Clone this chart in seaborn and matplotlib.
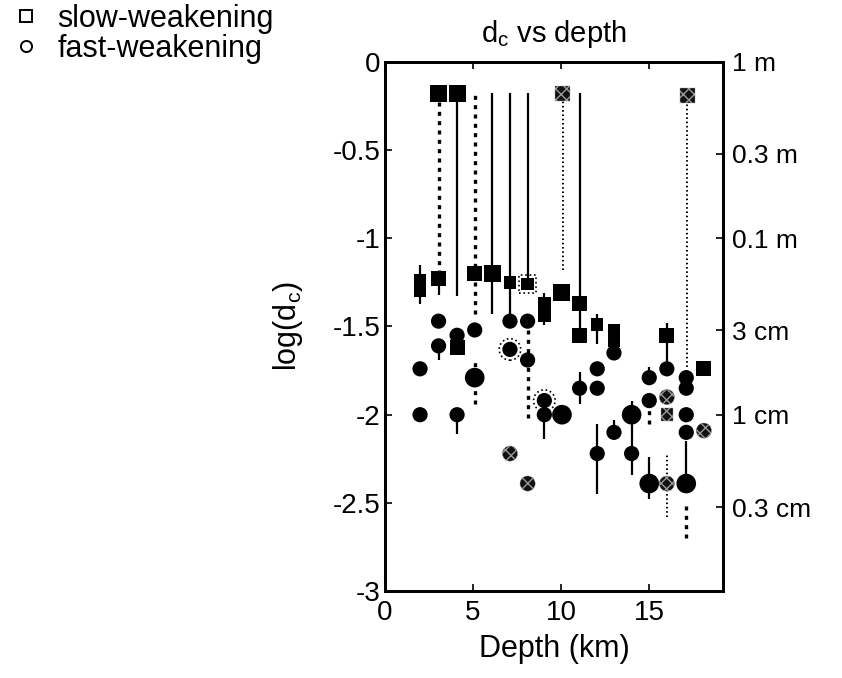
import matplotlib
matplotlib.use("Agg")
import matplotlib.pyplot as plt
import seaborn as sns
import pandas as pd
import numpy as np
from matplotlib.lines import Line2D

sns.set_style("ticks")
plt.rcParams['font.family'] = ['Liberation Sans', 'DejaVu Sans']
plt.rcParams['mathtext.default'] = 'regular'
plt.rcParams['axes.unicode_minus'] = False
for k in ['text.color', 'axes.labelcolor', 'xtick.color', 'ytick.color', 'axes.edgecolor']:
    plt.rcParams[k] = 'black'

# ---------------- data ----------------
# slow-weakening (squares)
sq_x = [2.0, 2.0, 3.05, 3.05, 4.1, 4.1, 5.1, 6.1, 7.1, 8.1, 9.05, 9.05, 10.05, 11.05, 11.05,
        12.05, 13.0, 13.0, 16.0, 18.1, 10.1, 17.15, 16.0]
sq_y = [-1.24, -1.30, -1.23, -0.18, -0.18, -1.62, -1.20, -1.20, -1.25, -1.26, -1.37, -1.44, -1.31,
        -1.37, -1.55, -1.49, -1.52, -1.58, -1.55, -1.74, -0.18, -0.19, -2.00]
sq_size = ['S', 'S', 'M', 'L', 'L', 'M', 'M', 'L', 'S', 'S', 'S', 'S', 'L', 'M', 'M',
           'S', 'S', 'S', 'M', 'M', 'M', 'M', 'S']
sq_kind = ['solid'] * 9 + ['ring'] + ['solid'] * 10 + ['hatched'] * 3

# fast-weakening (circles)
ci_x = [2.0, 2.0, 3.05, 3.05, 4.1, 4.1, 5.1, 5.1, 7.1, 7.1, 8.1, 8.1, 9.05, 9.05, 10.05,
        11.05, 12.05, 12.05, 12.05, 13.0, 13.0, 14.0, 14.0, 15.0, 15.0, 15.0, 16.0,
        17.1, 17.1, 17.1, 17.1, 17.1,
        7.1, 8.1, 16.0, 16.0, 18.1]
ci_y = [-1.74, -2.00, -1.47, -1.61, -1.55, -2.00, -1.52, -1.79, -1.47, -1.63, -1.47, -1.69, -1.92,
        -2.00, -2.00, -1.85, -1.74, -1.85, -2.22, -1.65, -2.10, -2.00, -2.22, -1.79, -1.92, -2.39,
        -1.74, -1.79, -1.85, -2.00, -2.10, -2.39,
        -2.22, -2.39, -1.90, -2.39, -2.09]
ci_size = ['N', 'N', 'N', 'N', 'N', 'N', 'N', 'L', 'N', 'N', 'N', 'N', 'N', 'N', 'L',
           'N', 'N', 'N', 'N', 'N', 'N', 'L', 'N', 'N', 'N', 'L', 'N',
           'N', 'N', 'N', 'N', 'L',
           'N', 'N', 'N', 'N', 'N']
ci_kind = (['solid'] * 9 + ['ring'] + ['solid'] * 2 + ['ring'] + ['solid'] * 19 + ['hatched'] * 5)

# vertical error bars
err_x = [2.0, 3.05, 3.05, 3.05, 4.1, 4.1, 5.1, 5.1, 6.1, 7.1, 8.1, 8.1, 9.05, 9.05, 10.1,
         11.05, 11.05, 12.05, 12.05, 13.0, 14.0, 15.0, 15.0, 15.0, 16.0, 16.0, 17.15, 17.1, 17.1]
err_lo = [-1.37, -1.20, -1.32, -1.69, -1.33, -2.11, -1.43, -1.94, -1.43, -1.47, -1.26, -2.02, -1.49,
          -2.14, -1.18, -1.55, -1.94, -1.60, -2.45, -2.10, -2.34, -1.79, -2.05, -2.48, -1.74, -2.58,
          -1.73, -2.34, -2.70]
err_hi = [-1.15, -0.20, -1.23, -1.61, -0.18, -2.00, -0.19, -1.69, -0.18, -0.18, -0.18, -1.47, -1.31,
          -2.00, -0.20, -0.18, -1.76, -1.43, -2.05, -2.03, -1.92, -1.73, -1.92, -2.24, -1.48, -2.23,
          -0.20, -2.15, -2.49]
err_style = ['solid', 'dashed', 'solid', 'solid', 'solid', 'solid', 'dashed', 'dashed', 'solid',
             'solid', 'solid', 'dashed', 'solid', 'solid', 'dotted', 'solid', 'solid', 'solid',
             'solid', 'solid', 'solid', 'solid', 'dashed', 'solid', 'solid', 'dotted', 'dotted',
             'solid', 'dashed']

x_ticks = [0, 5, 10, 15]
y_ticks = [0, -0.5, -1, -1.5, -2, -2.5, -3]
y_ticklabels = ['0', '-0.5', '-1', '-1.5', '-2', '-2.5', '-3']
r_ticks = [0, np.log10(0.3), -1, np.log10(0.03), -2, np.log10(0.003)]
r_ticklabels = ['1 m', '0.3 m', '0.1 m', '3 cm', '1 cm', '0.3 cm']

# ---------------- figure ----------------
fig = plt.figure(figsize=(8.42, 6.78), dpi=100)
ax = fig.add_axes([0.457, 0.128, 0.402, 0.781])

sq = pd.DataFrame({'x': sq_x, 'y': sq_y, 'size': sq_size, 'kind': sq_kind})
ci = pd.DataFrame({'x': ci_x, 'y': ci_y, 'size': ci_size, 'kind': ci_kind})
err = pd.DataFrame({'x': err_x, 'lo': err_lo, 'hi': err_hi, 'style': err_style})

styles = {'solid': dict(linestyles='solid', linewidths=1.6),
          'dashed': dict(linestyles=[(0, (1.2, 1.6))], linewidths=2.4),
          'dotted': dict(linestyles=[(0, (0.8, 1.4))], linewidths=1.4)}
for st, g in err.groupby('style'):
    ax.vlines(g['x'], g['lo'], g['hi'], colors='black', zorder=1, **styles[st])

sq_sizes = {'S': 80, 'M': 115, 'L': 150}
ci_sizes = {'N': 120, 'L': 200}

# rings (dotted outlines) behind
for df, m, sizes in [(sq, 's', sq_sizes), (ci, 'o', ci_sizes)]:
    r = df[df['kind'] == 'ring']
    if len(r):
        ax.scatter(r['x'], r['y'], s=[sizes[k] * 2.0 for k in r['size']], marker=m,
                   facecolors='none', edgecolors='black', linestyles=':', linewidths=1.2, zorder=2)

for df, m, sizes in [(sq, 's', sq_sizes), (ci, 'o', ci_sizes)]:
    solid = df[df['kind'] != 'hatched']
    sns.scatterplot(data=solid, x='x', y='y', size='size', sizes=sizes, marker=m,
                    color='black', linewidth=0, legend=False, ax=ax, zorder=3)
    h = df[df['kind'] == 'hatched']
    sns.scatterplot(data=h, x='x', y='y', size='size', sizes=sizes, marker=m,
                    facecolor='#111111', edgecolor='#9a9a9a', hatch='xxx', linewidth=0.3,
                    legend=False, ax=ax, zorder=3)

ax.set_xlim(0, 19.2)
ax.set_ylim(-3, 0)
ax.set_xticks(x_ticks)
ax.set_xticklabels([str(t) for t in x_ticks])
ax.set_yticks(y_ticks)
ax.set_yticklabels(y_ticklabels)
ax.tick_params(axis='both', direction='in', length=5, width=1.2, labelsize=20, top=True, pad=3)
ax.tick_params(axis='x', pad=6)
for s in ax.spines.values():
    s.set_linewidth(2)
ax.set_xlabel('Depth (km)', fontsize=22, labelpad=6)
ax.set_ylabel('log(d$_c$)', fontsize=22, labelpad=20)
ax.set_title('d$_c$ vs depth', fontsize=21, pad=14)

ax2 = ax.twinx()
ax2.set_ylim(-3, 0)
ax2.set_yticks(r_ticks)
ax2.set_yticklabels(r_ticklabels)
ax2.tick_params(axis='y', direction='in', length=5, width=1.2, labelsize=19, pad=6)
for s in ax2.spines.values():
    s.set_linewidth(2)

handles = [Line2D([], [], marker='s', color='black', markerfacecolor='white', linestyle='none',
                  markersize=8, markeredgewidth=1.4),
           Line2D([], [], marker='o', color='black', markerfacecolor='white', linestyle='none',
                  markersize=8, markeredgewidth=1.4)]
fig.legend(handles, ['slow-weakening', 'fast-weakening'], loc='upper left',
           bbox_to_anchor=(0.012, 0.994), frameon=False, fontsize=22, handlelength=1.05,
           handletextpad=0.5, labelspacing=0.0, borderpad=0, borderaxespad=0)

fig.savefig('out.png', dpi=100)
